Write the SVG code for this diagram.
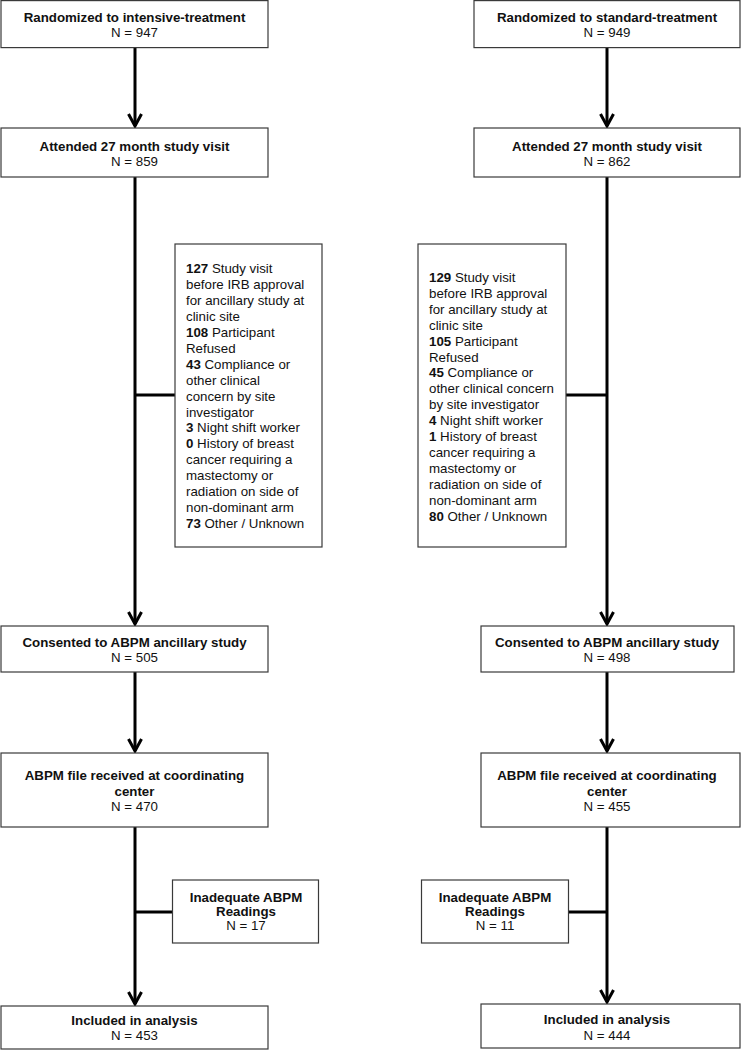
<svg xmlns="http://www.w3.org/2000/svg" width="741" height="1050" viewBox="0 0 741 1050">
<style>
.box{fill:#fff;stroke:#3a3a3a;stroke-width:1.2}
.t{font-family:"Liberation Sans",Arial,sans-serif;font-size:13.3px;fill:#111}
.c{text-anchor:middle}
.b{font-weight:bold}
.ln{stroke:#000;stroke-width:3;fill:none}
</style>
<defs>
<marker id="ah" markerUnits="userSpaceOnUse" viewBox="-13 -8 15 16" markerWidth="15" markerHeight="16" refX="0" refY="0" orient="auto">
<path d="M-12,-6.5 L0,0 L-12,6.5" fill="none" stroke="#000" stroke-width="3"/>
</marker>
</defs>
<g id="connectors">
<line class="ln" x1="135" y1="48" x2="135" y2="126" marker-end="url(#ah)"/>
<line class="ln" x1="135" y1="177" x2="135" y2="624" marker-end="url(#ah)"/>
<line class="ln" x1="135" y1="395" x2="175" y2="395"/>
<line class="ln" x1="135" y1="672" x2="135" y2="751" marker-end="url(#ah)"/>
<line class="ln" x1="135" y1="827" x2="135" y2="1004" marker-end="url(#ah)"/>
<line class="ln" x1="135" y1="912" x2="172" y2="912"/>
<line class="ln" x1="607" y1="48" x2="607" y2="126" marker-end="url(#ah)"/>
<line class="ln" x1="607" y1="177" x2="607" y2="624" marker-end="url(#ah)"/>
<line class="ln" x1="566" y1="395" x2="607" y2="395"/>
<line class="ln" x1="607" y1="672" x2="607" y2="751" marker-end="url(#ah)"/>
<line class="ln" x1="607" y1="827" x2="607" y2="1002" marker-end="url(#ah)"/>
<line class="ln" x1="568" y1="912" x2="607" y2="912"/>
</g>
<g id="rand-int">
<rect class="box" x="1" y="0.6" width="267" height="47"/>
<text class="t c b" x="134.5" y="22">Randomized to intensive-treatment</text>
<text class="t c" x="134.5" y="37">N = 947</text>
</g>
<g id="rand-std">
<rect class="box" x="474" y="0.6" width="266" height="47"/>
<text class="t c b" x="607" y="22">Randomized to standard-treatment</text>
<text class="t c" x="607" y="37">N = 949</text>
</g>
<g id="att-int">
<rect class="box" x="1" y="128" width="267" height="49"/>
<text class="t c b" x="134.5" y="151">Attended 27 month study visit</text>
<text class="t c" x="134.5" y="166">N = 859</text>
</g>
<g id="att-std">
<rect class="box" x="474" y="128" width="266" height="49"/>
<text class="t c b" x="607" y="151">Attended 27 month study visit</text>
<text class="t c" x="607" y="166">N = 862</text>
</g>
<g id="excl-int">
<rect class="box" x="175" y="244" width="147" height="303"/>
<text class="t">
<tspan x="186" y="273"><tspan class="b">127</tspan> Study visit</tspan>
<tspan x="186" y="288.9">before IRB approval</tspan>
<tspan x="186" y="304.9">for ancillary study at</tspan>
<tspan x="186" y="320.8">clinic site</tspan>
<tspan x="186" y="336.8"><tspan class="b">108</tspan> Participant</tspan>
<tspan x="186" y="352.7">Refused</tspan>
<tspan x="186" y="368.6"><tspan class="b">43</tspan> Compliance or</tspan>
<tspan x="186" y="384.6">other clinical</tspan>
<tspan x="186" y="400.5">concern by site</tspan>
<tspan x="186" y="416.5">investigator</tspan>
<tspan x="186" y="432.4"><tspan class="b">3</tspan> Night shift worker</tspan>
<tspan x="186" y="448.3"><tspan class="b">0</tspan> History of breast</tspan>
<tspan x="186" y="464.3">cancer requiring a</tspan>
<tspan x="186" y="480.2">mastectomy or</tspan>
<tspan x="186" y="496.2">radiation on side of</tspan>
<tspan x="186" y="512.1">non-dominant arm</tspan>
<tspan x="186" y="528"><tspan class="b">73</tspan> Other / Unknown</tspan>
</text>
</g>
<g id="excl-std">
<rect class="box" x="418" y="244" width="148" height="303"/>
<text class="t">
<tspan x="429" y="282"><tspan class="b">129</tspan> Study visit</tspan>
<tspan x="429" y="297.9">before IRB approval</tspan>
<tspan x="429" y="313.8">for ancillary study at</tspan>
<tspan x="429" y="329.7">clinic site</tspan>
<tspan x="429" y="345.6"><tspan class="b">105</tspan> Participant</tspan>
<tspan x="429" y="361.5">Refused</tspan>
<tspan x="429" y="377.4"><tspan class="b">45</tspan> Compliance or</tspan>
<tspan x="429" y="393.3">other clinical concern</tspan>
<tspan x="429" y="409.2">by site investigator</tspan>
<tspan x="429" y="425.1"><tspan class="b">4</tspan> Night shift worker</tspan>
<tspan x="429" y="441"><tspan class="b">1</tspan> History of breast</tspan>
<tspan x="429" y="456.9">cancer requiring a</tspan>
<tspan x="429" y="472.8">mastectomy or</tspan>
<tspan x="429" y="488.7">radiation on side of</tspan>
<tspan x="429" y="504.6">non-dominant arm</tspan>
<tspan x="429" y="520.5"><tspan class="b">80</tspan> Other / Unknown</tspan>
</text>
</g>
<g id="cons-int">
<rect class="box" x="1" y="626" width="267" height="46"/>
<text class="t c b" x="134.5" y="647">Consented to ABPM ancillary study</text>
<text class="t c" x="134.5" y="662">N = 505</text>
</g>
<g id="cons-std">
<rect class="box" x="481" y="626" width="253" height="46"/>
<text class="t c b" x="607" y="647">Consented to ABPM ancillary study</text>
<text class="t c" x="607" y="662">N = 498</text>
</g>
<g id="file-int">
<rect class="box" x="1" y="753" width="267" height="74"/>
<text class="t c b" x="134.5" y="780">ABPM file received at coordinating</text>
<text class="t c b" x="134.5" y="796">center</text>
<text class="t c" x="134.5" y="811">N = 470</text>
</g>
<g id="file-std">
<rect class="box" x="481" y="753" width="259" height="74"/>
<text class="t c b" x="607" y="780">ABPM file received at coordinating</text>
<text class="t c b" x="607" y="796">center</text>
<text class="t c" x="607" y="811">N = 455</text>
</g>
<g id="inad-int">
<rect class="box" x="172.5" y="880" width="146" height="63"/>
<text class="t c b" x="246" y="902">Inadequate ABPM</text>
<text class="t c b" x="246" y="916">Readings</text>
<text class="t c" x="246" y="930">N = 17</text>
</g>
<g id="inad-std">
<rect class="box" x="421.5" y="880" width="147" height="63"/>
<text class="t c b" x="495" y="902">Inadequate ABPM</text>
<text class="t c b" x="495" y="916">Readings</text>
<text class="t c" x="495" y="930">N = 11</text>
</g>
<g id="incl-int">
<rect class="box" x="1" y="1006" width="267" height="43"/>
<text class="t c b" x="134.5" y="1025">Included in analysis</text>
<text class="t c" x="134.5" y="1040">N = 453</text>
</g>
<g id="incl-std">
<rect class="box" x="481" y="1004" width="259" height="44"/>
<text class="t c b" x="607" y="1024">Included in analysis</text>
<text class="t c" x="607" y="1040">N = 444</text>
</g>
</svg>
